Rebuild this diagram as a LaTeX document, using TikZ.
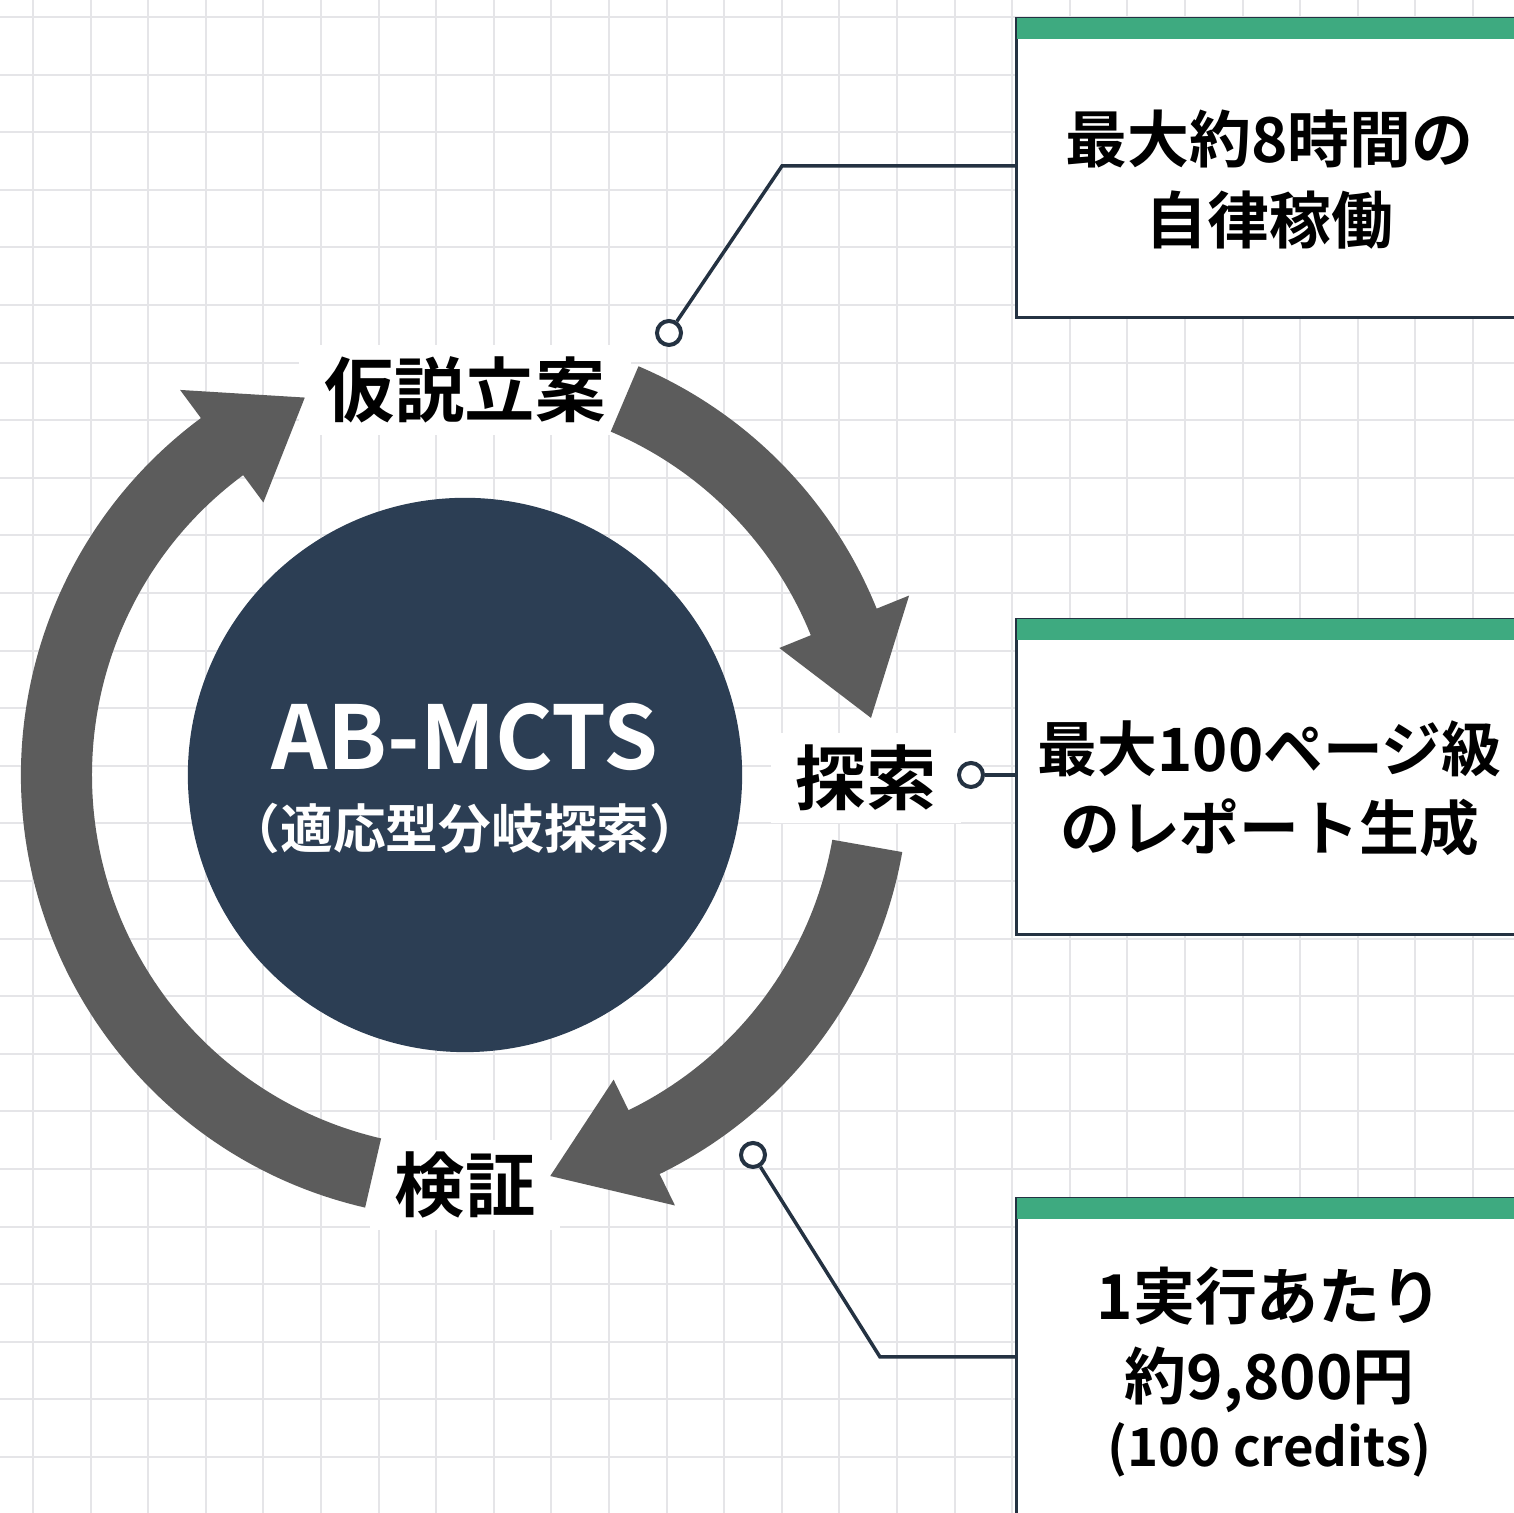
\documentclass[tikz,border=0pt]{standalone}
\usepackage{fontspec}
\setmainfont{Noto Sans CJK JP}[BoldFont={Noto Sans CJK JP Bold}]
\usetikzlibrary{calc,positioning}

\definecolor{navy}{RGB}{44,62,84}
\definecolor{inkline}{RGB}{36,50,66}
\definecolor{band}{RGB}{62,170,128}
\definecolor{loopgray}{RGB}{92,92,92}
\definecolor{gridgray}{RGB}{229,229,232}

% one thick clockwise arrow on the ring: tail angle, head base angle, tip angle
\newcommand{\cyclearc}[3]{%
  \fill[cyclefill] ($(c)+(#1:444)$) arc[start angle=#1, end angle=#2, radius=444]
    -- ($(c)+(#2:479)$) -- ($(c)+(#3:410)$) -- ($(c)+(#2:339)$)
    -- ($(c)+(#2:373)$) arc[start angle=#2, end angle=#1, radius=373] -- cycle;}

\begin{document}
\begin{tikzpicture}[%
    x=0.01cm, y=0.01cm,         % one unit is one pixel of the layout
    font=\bfseries,
    ]
% -------------------------------------------------
% Styles
\tikzset{
  gridline/.style={draw=gridgray, line width=0.02cm},
  core/.style={circle, fill=navy, minimum size=5.54cm, inner sep=0pt},
  coretitle/.style={text=white, inner sep=0pt, font=\bfseries\fontsize{25}{30}\selectfont},
  coresub/.style={text=white, inner sep=0pt, font=\bfseries\fontsize{15}{18}\selectfont},
  stagelabel/.style={fill=white, inner xsep=0.25cm, inner ysep=0.12cm,
    font=\bfseries\fontsize{20}{24}\selectfont},
  cyclefill/.style={fill=loopgray},
  card/.style={draw=inkline, line width=0.03cm, fill=white, minimum width=5.06cm,
    inner sep=0pt, anchor=north west},
  cardtext/.style={align=center, inner sep=0pt, font=\bfseries\fontsize{17.6}{23}\selectfont},
  hook/.style={circle, draw=inkline, line width=0.04cm, fill=white,
    minimum size=0.24cm, inner sep=0pt},
  link/.style={draw=inkline, line width=0.035cm},
}
% -------------------------------------------------
% Paper with a fine grid
\useasboundingbox (0,0) rectangle (1514,1513);
\clip (0,0) rectangle (1514,1513);
\fill[white] (0,0) rectangle (1514,1513);
\foreach \i in {0,...,26} {
  \draw[gridline] ({33+57.6*\i},0) -- ({33+57.6*\i},1513);
  \draw[gridline] (0,{1496-57.6*\i}) -- (1514,{1496-57.6*\i});
}
% -------------------------------------------------
% Cards on the right
\node [card, minimum height=2.99cm] (box1) at (1015,1496) {};
\node [card, minimum height=3.15cm] (box2) at (1015,895) {};
\node [card, minimum height=3.40cm] (box3) at (1015,316) {};
\foreach \b in {box1,box2,box3}
  \fill[band] ([shift={(1.5,-1.5)}]\b.north west) rectangle ([yshift=-0.22cm]\b.north east);

\node [cardtext] (t1) at ($(box1.north)+(0,-163)$) {最大約8時間の\\自律稼働};
\node [cardtext, font=\bfseries\fontsize{17}{22.4}\selectfont] (t2)
  at ($(box2.north)+(0,-171)$) {最大100ページ級\\のレポート生成};
\node [cardtext] (t3) at ($(box3.north)+(0,-175)$)
  {1実行あたり\\約9,800円\\[-4pt]{\fontsize{15}{18}\selectfont (100 credits)}};

% -------------------------------------------------
% The loop round the core
\coordinate (c) at (465,738);
\node [core] (core) at (c) {};
\node [coretitle] (title) at ($(c)+(0,38)$) {AB-MCTS};
\node [coresub] (sub) at ($(c)+(0,-53)$) {（適応型分岐探索）};

\node [stagelabel] (hyp) at (465,1123) {仮説立案};
\node [stagelabel] (search) at (866,735) {探索};
\node [stagelabel] (verify) at (465,328) {検証};

\cyclearc{67}{22}{8}        % 仮説立案 -> 探索
\cyclearc{-10}{-64}{-78}    % 探索 -> 検証
\cyclearc{257}{126.5}{113}  % 検証 -> 仮説立案

% -------------------------------------------------
% Call-out lines
\node [hook] (m1) at (669,1180) {};
\node [hook] (m2) at (971,738) {};
\node [hook] (m3) at (753,358) {};
\coordinate (e1) at (782,1347);
\coordinate (e3) at (880,156);

\draw[link] (m1) -- (e1) -- (e1 -| box1.west);
\draw[link] (m2) -- (m2 -| box2.west);
\draw[link] (m3) -- (e3) -- (e3 -| box3.west);

% -------------------------------------------------
\end{tikzpicture}
\end{document}
